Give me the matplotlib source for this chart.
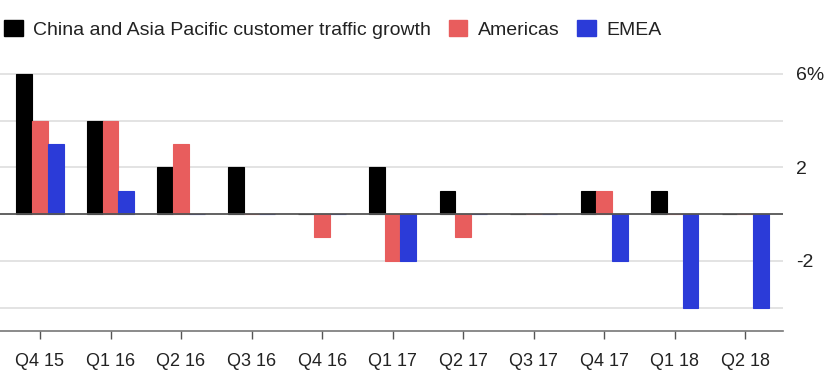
import matplotlib
matplotlib.use("Agg")
import matplotlib.pyplot as plt
import numpy as np
from matplotlib.patches import Patch

plt.rcParams['font.family'] = ['Liberation Sans', 'DejaVu Sans']

# data
quarters = ['Q4 15', 'Q1 16', 'Q2 16', 'Q3 16', 'Q4 16', 'Q1 17',
            'Q2 17', 'Q3 17', 'Q4 17', 'Q1 18', 'Q2 18']
china_apac = [6, 4, 2, 2, 0, 2, 1, 0, 1, 1, 0]
americas = [4, 4, 3, 0, -1, -2, -1, 0, 1, 0, 0]
emea = [3, 1, 0, 0, 0, -2, 0, 0, -2, -4, -4]

series_names = ['China and Asia Pacific customer traffic growth', 'Americas', 'EMEA']
colors = ['#000000', '#e85d5d', '#2b3bd8']

fig = plt.figure(figsize=(8.28, 3.84), dpi=100)
ax = fig.add_axes([0.0, 0.138, 0.946, 0.682])

x = np.arange(len(quarters))
w = 0.223
for i, (vals, c) in enumerate(zip([china_apac, americas, emea], colors)):
    ax.bar(x + (i - 1) * w, vals, width=w, color=c, edgecolor=c, linewidth=0.8, zorder=3)

# gridlines and zero line
for g in [6, 4, 2, -2, -4]:
    ax.axhline(g, color='#dedede', lw=1.2, zorder=1)
ax.axhline(0, color='#555555', lw=1.3, zorder=4)

ax.set_xlim(-0.567, 10.54)
ax.set_ylim(-5, 6.2)

# y labels on the right, no tick marks
ax.yaxis.tick_right()
ax.set_yticks([6, 2, -2])
ax.set_yticklabels(['6%', '2', '-2'])
ax.tick_params(axis='y', length=0, pad=9, labelsize=14, labelcolor='#222222')

ax.set_xticks(x)
ax.set_xticklabels(quarters)
ax.tick_params(axis='x', length=6, width=1, color='#555555', pad=10,
               labelsize=13, labelcolor='#222222')

for s in ['top', 'left', 'right']:
    ax.spines[s].set_visible(False)
ax.spines['bottom'].set_color('#777777')
ax.spines['bottom'].set_linewidth(1.2)

handles = [Patch(facecolor=c, edgecolor=c) for c in colors]
fig.legend(handles, series_names, loc='center left', bbox_to_anchor=(0.005, 0.924),
           ncol=3, frameon=False, fontsize=14, handlelength=0.95, handleheight=0.95,
           handletextpad=0.55, columnspacing=0.9, labelcolor='#222222',
           borderpad=0, borderaxespad=0)

fig.savefig('out.png', dpi=100, facecolor='white')
